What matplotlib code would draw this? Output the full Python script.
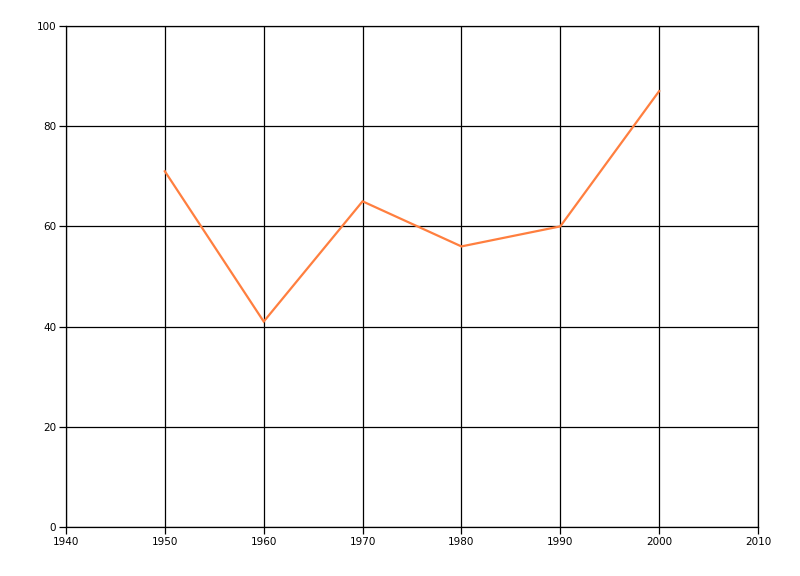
import matplotlib
matplotlib.use("Agg")
import matplotlib.pyplot as plt

years = [1950, 1960, 1970, 1980, 1990, 2000]
values = [71, 41, 65, 56, 60, 87]
x_ticks = [1940, 1950, 1960, 1970, 1980, 1990, 2000, 2010]
y_ticks = [0, 20, 40, 60, 80, 100]

fig = plt.figure(figsize=(8, 5.76), dpi=100)
ax = fig.add_axes([0.0825, 0.0851, 0.865, 0.8698])
ax.plot(years, values, color="#FF7F3F", linewidth=1.6, solid_joinstyle="miter")
ax.set_xlim(1940, 2010)
ax.set_ylim(0, 100)
ax.set_xticks(x_ticks)
ax.set_yticks(y_ticks)
ax.grid(True, color="black", linewidth=0.9)
ax.set_axisbelow(True)
for s in ax.spines.values():
    s.set_color("black")
    s.set_linewidth(0.9)
ax.tick_params(axis="both", length=5, width=0.9, color="black", labelsize=7.5, pad=2)
fig.savefig("out.png", dpi=100)
